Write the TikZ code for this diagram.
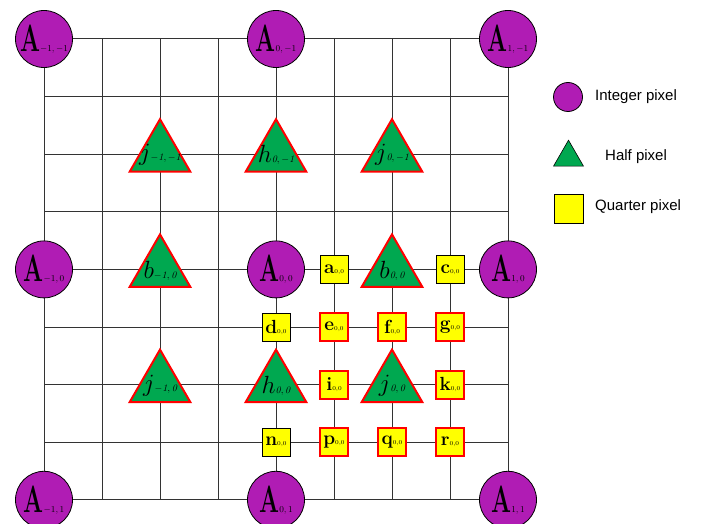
\documentclass[tikz,border=0pt]{standalone}
\usepackage{fontspec}
\usepackage{graphicx}
\newfontfamily\legendfont{Liberation Sans}
\usetikzlibrary{shapes.geometric}
\definecolor{intpix}{RGB}{176,28,180}
\definecolor{halfpix}{RGB}{0,168,80}
\definecolor{qpix}{RGB}{255,255,0}
\newcommand{\Alab}[1]{{\fontsize{38}{38}\selectfont\scalebox{0.62}[1]{\bfseries A}}{\fontsize{9}{9}\selectfont$#1$}}
\newcommand{\Hlab}[2]{{\fontsize{31}{31}\selectfont$#1$}{\fontsize{10}{10}\selectfont$\mathit{#2}$}}
\newcommand{\Qlab}[1]{{\fontsize{19}{19}\selectfont\bfseries #1}{\fontsize{6}{6}\selectfont 0,0}}
\tikzset{
 intnode/.style={circle, draw=black, line width=0.8pt, fill=intpix, minimum size=57pt, inner sep=0pt},
 halfnode/.style={regular polygon, regular polygon sides=3, draw=red, line width=2pt, fill=halfpix, minimum size=70pt, inner sep=0pt},
 qnode/.style={rectangle, draw=black, line width=0.8pt, fill=qpix, minimum size=28pt, inner sep=0pt},
 qred/.style={qnode, draw=red, line width=2pt},
 lab/.style={inner sep=0pt},
 gridline/.style={draw=black!80, line width=1pt},
 legtext/.style={font=\legendfont\fontsize{15}{15}\selectfont, anchor=west, inner sep=0pt},
}
\begin{document}
\begin{tikzpicture}[x=1pt,y=-1pt]
\useasboundingbox (0,0) rectangle (702,524);
\clip (0,0) rectangle (702,524);
\begin{scope}[shift={(44pt,-39pt)}, x=58pt, y=-57.6pt]
  \foreach \i in {0,...,8} {
    \draw[gridline] (\i,0) -- (\i,8);
    \draw[gridline] (0,\i) -- (8,\i);
  }
  % integer pixels
  \foreach \nm/\px/\py/\sub in {Amm/0/0/{-1,-1}, Azm/4/0/{0,-1}, Apm/8/0/{1,-1},
      Amz/0/4/{-1,0}, Azz/4/4/{0,0}, Apz/8/4/{1,0},
      Amp/0/8/{-1,1}, Azp/4/8/{0,1}, App/8/8/{1,1}} {
    \node[intnode] (\nm) at (\px,\py) {};
    \node[lab] (\nm-t) at (\nm) {\Alab{\sub}};
  }
  % half pixels
  \foreach \nm/\px/\py/\ltr/\sub in {jmm/2/2/j/{-1,-1}, hzm/4/2/h/{0,-1}, jzm/6/2/j/{0,-1},
      bmz/2/4/b/{-1,0}, bzz/6/4/b/{0,0}, jmz/2/6/j/{-1,0}, hzz/4/6/h/{0,0}, jzz/6/6/j/{0,0}} {
    \node[halfnode] (\nm) at (\px,\py) {};
    \node[lab] (\nm-t) at ([yshift=-1pt]\nm.center) {\Hlab{\ltr}{\sub}};
  }
  % quarter pixels
  \foreach \nm/\px/\py/\st in {a/5/4/qnode, c/7/4/qnode, d/4/5/qnode, e/5/5/qred, f/6/5/qred,
      g/7/5/qred, i/5/6/qred, k/7/6/qred, n/4/7/qnode, p/5/7/qred, q/6/7/qred, r/7/7/qred} {
    \node[\st] (q\nm) at (\px,\py) {\Qlab{\nm}};
  }
\end{scope}
% legend
\node[circle, draw=black, line width=0.8pt, fill=intpix, minimum size=29pt, inner sep=0pt] (legI) at (568,97) {};
\node[regular polygon, regular polygon sides=3, draw=black, line width=0.6pt, fill=halfpix, minimum size=34.6pt, inner sep=0pt] (legH) at (568.5,157.5) {};
\node[rectangle, draw=black, line width=0.8pt, fill=qpix, minimum size=29pt, inner sep=0pt] (legQ) at (568.5,208.5) {};
\node[legtext] (tI) at (595,97) {Integer pixel};
\node[legtext] (tH) at (605,157) {Half pixel};
\node[legtext] (tQ) at (595,207) {Quarter pixel};
\end{tikzpicture}
\end{document}
